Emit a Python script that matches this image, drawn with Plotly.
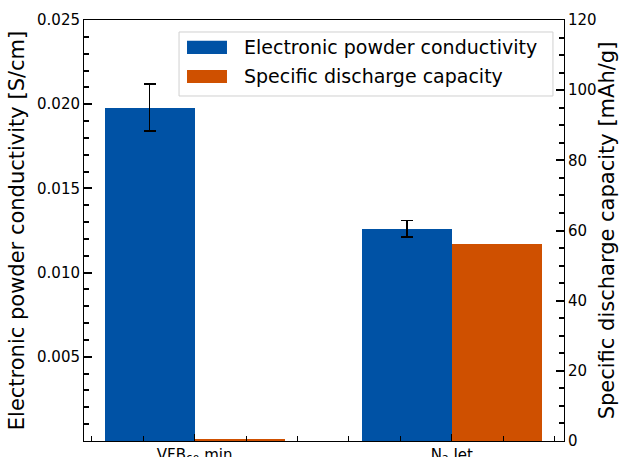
import plotly.graph_objects as go
from plotly.subplots import make_subplots

categories = ["VFB<sub>60</sub> min", "N<sub>2</sub> Jet"]
cat_pos = [0, 1]
conductivity = [0.0198, 0.0126]
conductivity_err = [0.0014, 0.00048]
capacity = [0.6, 56.2]
series_names = ["Electronic powder conductivity", "Specific discharge capacity"]

blue = "#0052a5"
orange = "#cf5000"
font = "DejaVu Sans"

fig = make_subplots(specs=[[{"secondary_y": True}]])
fig.add_trace(go.Bar(
    x=cat_pos, y=conductivity, name=series_names[0],
    marker=dict(color=blue, line=dict(width=0)), width=0.35, offset=-0.35,
    error_y=dict(type="data", array=conductivity_err, color="black", thickness=1.5, width=6),
), secondary_y=False)
fig.add_trace(go.Bar(
    x=cat_pos, y=capacity, name=series_names[1],
    marker=dict(color=orange, line=dict(width=0)), width=0.35, offset=0,
), secondary_y=True)

# legend drawn manually (matplotlib-style wide swatches)
shapes = [dict(type="rect", xref="paper", yref="paper", x0=0.198, x1=0.977, y0=0.8195, y1=0.9715,
               fillcolor="white", line=dict(color="#d0d0d0", width=1), layer="above")]
annotations = []
for i, (nm, col) in enumerate(zip(series_names, [blue, orange])):
    yc = 0.935 - i * 0.069
    shapes.append(dict(type="rect", xref="paper", yref="paper", x0=0.2146, x1=0.2979,
                       y0=yc - 0.0155, y1=yc + 0.0155, fillcolor=col, line=dict(width=0), layer="above"))
    annotations.append(dict(xref="paper", yref="paper", x=0.329, y=yc, text=nm, showarrow=False,
                            xanchor="left", yanchor="middle", font=dict(size=19, family=font, color="black")))

fig.update_layout(
    width=619, height=457,
    margin=dict(l=84, r=55, t=20, b=16),
    plot_bgcolor="white", paper_bgcolor="white",
    font=dict(family=font, size=15, color="black"),
    showlegend=False,
    shapes=shapes, annotations=annotations,
    bargap=0,
)
fig.update_xaxes(
    domain=[0, 1],
    range=[-0.43, 1.436], tickvals=cat_pos, ticktext=categories,
    ticks="inside", ticklen=7, tickwidth=1, tickcolor="black",
    showline=True, linecolor="black", linewidth=1, mirror=True,
    showgrid=False, zeroline=False, automargin=False,
    tickfont=dict(size=15),
    minor=dict(ticks="inside", dtick=0.2, tick0=0, ticklen=5, tickcolor="black", showgrid=False),
)
fig.update_yaxes(
    range=[0, 0.025], tickvals=[0.005, 0.010, 0.015, 0.020, 0.025],
    ticktext=["0.005", "0.010", "0.015", "0.020", "0.025"],
    ticks="inside", ticklen=8, tickwidth=1.5, tickcolor="black",
    showline=True, linecolor="black", linewidth=1,
    showgrid=False, zeroline=False, automargin=False,
    tickfont=dict(size=15),
    minor=dict(ticks="inside", dtick=0.001, tick0=0, ticklen=5, tickcolor="black", showgrid=False),
    title=dict(text="Electronic powder conductivity [S/cm]", font=dict(size=21), standoff=6),
    secondary_y=False,
)
fig.update_yaxes(
    range=[0, 120], tickvals=[0, 20, 40, 60, 80, 100, 120],
    ticks="inside", ticklen=8, tickwidth=1.5, tickcolor="black",
    showline=True, linecolor="black", linewidth=1,
    showgrid=False, zeroline=False, automargin=False,
    tickfont=dict(size=15),
    minor=dict(ticks="inside", dtick=5, tick0=0, ticklen=5, tickcolor="black", showgrid=False),
    title=dict(text="Specific discharge capacity [mAh/g]", font=dict(size=21), standoff=3),
    secondary_y=True,
)

fig.write_html("out.html")
